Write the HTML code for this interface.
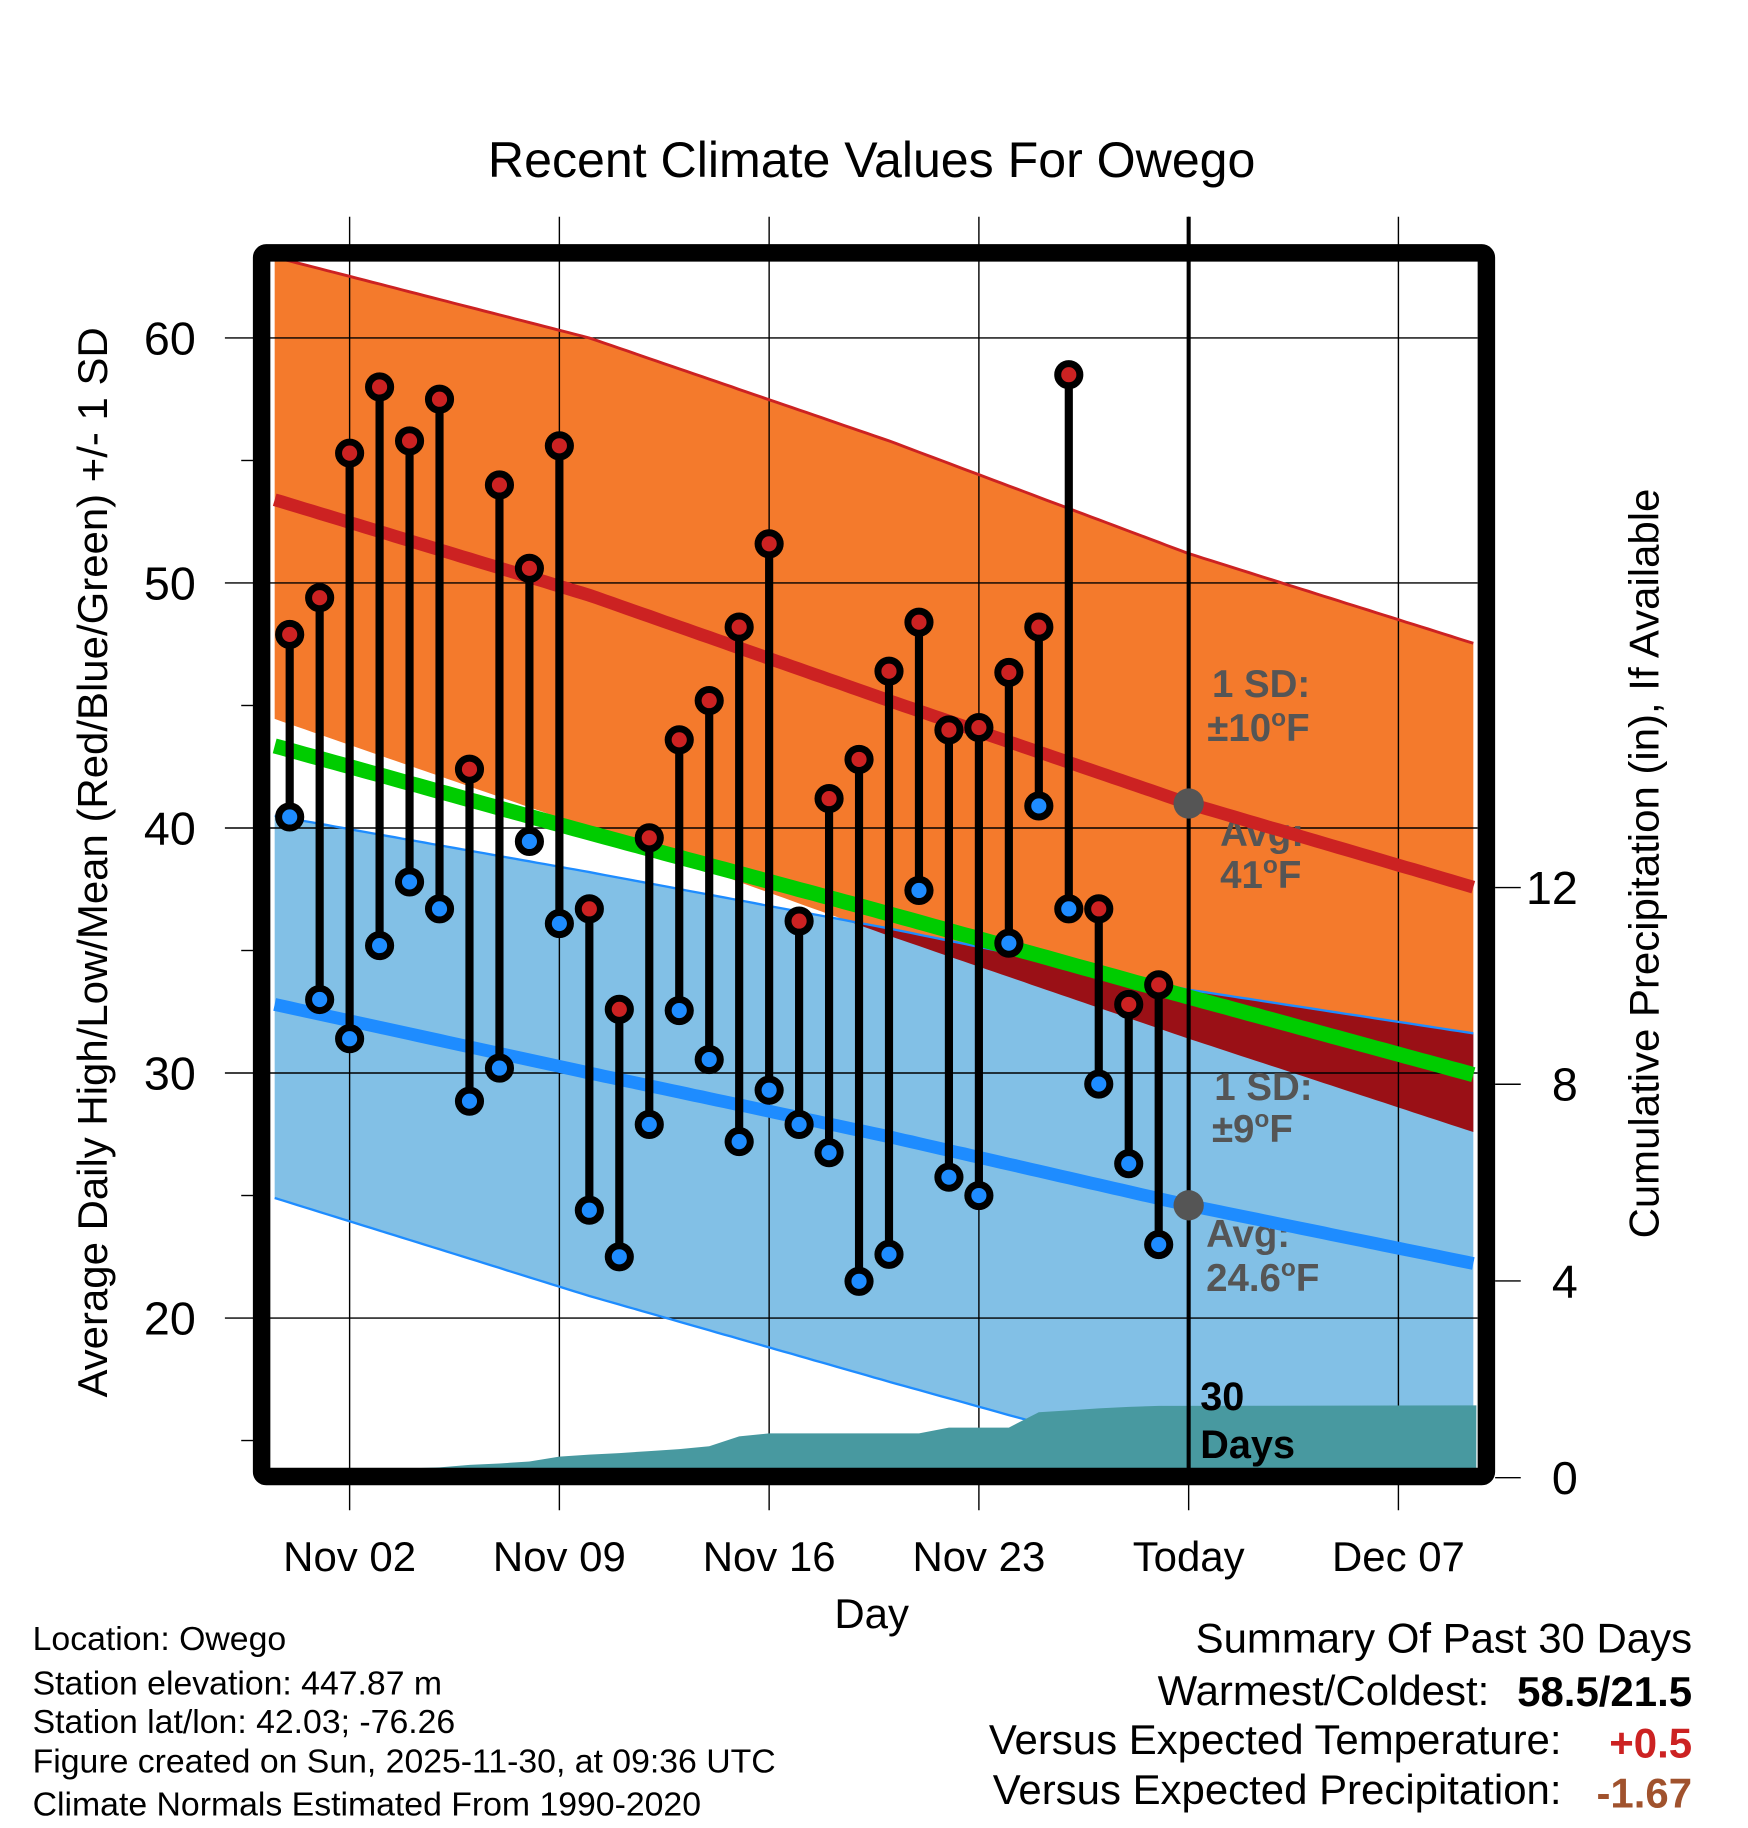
<!DOCTYPE html>
<html><head><meta charset="utf-8"><style>
html,body{margin:0;padding:0;background:#fff}
svg{display:block}
text{font-family:"Liberation Sans",sans-serif}
</style></head><body>
<svg id="chart" width="1748" height="1828" viewBox="0 0 1500 1568.6" xmlns="http://www.w3.org/2000/svg">
<defs><clipPath id="plotclip"><rect x="232" y="224" width="1036" height="1036"/></clipPath></defs>
<g id="bands" clip-path="url(#plotclip)"></g>
<g id="grid"></g>
<g id="annot">
<text x="1040" y="598" font-size="33" font-weight="bold" fill="#555">1 SD:</text>
<text x="1036" y="636" font-size="33" font-weight="bold" fill="#555">±10<tspan font-size="21" dy="-13">o</tspan><tspan dy="13">F</tspan></text>
<text x="1047" y="726" font-size="33" font-weight="bold" fill="#555">Avg:</text>
<text x="1047" y="762" font-size="33" font-weight="bold" fill="#555">41<tspan font-size="21" dy="-13">o</tspan><tspan dy="13">F</tspan></text>
<text x="1042" y="944" font-size="33" font-weight="bold" fill="#555">1 SD:</text>
<text x="1040" y="980" font-size="33" font-weight="bold" fill="#555">±9<tspan font-size="21" dy="-13">o</tspan><tspan dy="13">F</tspan></text>
<text x="1035" y="1070" font-size="33" font-weight="bold" fill="#555">Avg:</text>
<text x="1035" y="1108" font-size="33" font-weight="bold" fill="#555">24.6<tspan font-size="21" dy="-13">o</tspan><tspan dy="13">F</tspan></text>
</g>
<g id="lines" clip-path="url(#plotclip)"></g>
<g id="marks"></g>
<text x="1030" y="1210" font-size="34" font-weight="bold" fill="#000">30</text>
<text x="1030" y="1251" font-size="34" font-weight="bold" fill="#000">Days</text>
<rect x="224.5" y="217" width="1051" height="1050" rx="4" fill="none" stroke="#000" stroke-width="15"/>
<g id="axes"></g>
<text x="748" y="152" font-size="43" text-anchor="middle">Recent Climate Values For Owego</text>
<text transform="translate(92,740) rotate(-90)" font-size="36" text-anchor="middle">Average Daily High/Low/Mean (Red/Blue/Green) +/- 1 SD</text>
<text transform="translate(1423,741) rotate(-90)" font-size="36" text-anchor="middle">Cumulative Precipitation (in), If Available</text>
<text x="748" y="1397" font-size="36" text-anchor="middle">Day</text>
<g font-size="29">
<text x="28" y="1416">Location: Owego</text>
<text x="28" y="1454">Station elevation: 447.87 m</text>
<text x="28" y="1487">Station lat/lon: 42.03; -76.26</text>
<text x="28" y="1521">Figure created on Sun, 2025-11-30, at 09:36 UTC</text>
<text x="28" y="1558">Climate Normals Estimated From 1990-2020</text>
</g>
<g font-size="36">
<text x="1452" y="1418" text-anchor="end">Summary Of Past 30 Days</text>
<text x="1278" y="1463" text-anchor="end">Warmest/Coldest:</text>
<text x="1452" y="1464" text-anchor="end" font-weight="bold">58.5/21.5</text>
<text x="1340" y="1505" text-anchor="end">Versus Expected Temperature:</text>
<text x="1452" y="1508" text-anchor="end" font-weight="bold" fill="#cc2222">+0.5</text>
<text x="1340" y="1548" text-anchor="end">Versus Expected Precipitation:</text>
<text x="1452" y="1551" text-anchor="end" font-weight="bold" fill="#a0522d">-1.67</text>
</g>
</svg>
<script>
// Day index: 0 = Nov 01
const days = [-1,0,1,2,3,4,5,6,7,8,9,10,11,12,13,14,15,16,17,18,19,20,21,22,23,24,25,26,27,28];
const highs = [47.9,49.4,55.3,58.0,55.8,57.5,42.4,54.0,50.6,55.6,36.7,32.6,39.6,43.6,45.2,48.2,51.6,36.2,41.2,42.8,46.4,48.4,44.0,44.1,46.35,48.2,58.5,36.7,32.8,33.6];
const lows = [40.45,33.0,31.4,35.2,37.8,36.7,28.85,30.2,39.45,36.1,24.4,22.5,27.9,32.55,30.55,27.2,29.3,27.9,26.75,21.5,22.6,37.45,25.75,25.0,35.3,40.9,36.7,29.55,26.3,23.0];
const precipDays = [-1.5,3,4,5,6,7,8,9,10,11,12,13,14,15,20,21,23,24,25,26,27,28,38.6];
const precip = [0,0,0.02,0.07,0.1,0.14,0.24,0.28,0.31,0.35,0.39,0.45,0.65,0.71,0.71,0.83,0.83,1.14,1.18,1.22,1.25,1.27,1.28];
const normDays = [-1.5,9,19,29,38.6];
const hiUpper = [63.3,60.0,55.8,51.2,47.5];
const hiAvg = [53.4,49.5,45.2,41.0,37.55];
const hiLower = [44.45,40.0,35.6,31.4,27.55];
const meanAvg = [43.35,39.8,36.5,33.1,29.9];
const loUpper = [40.5,38.2,35.9,33.4,31.6];
const loAvg = [32.8,30.0,27.4,24.6,22.2];
const loLower = [24.9,20.9,17.4,14.0,11.0];
const yTicks = [20,30,40,50,60];
const pTicks = [0,4,8,12];
const xTickDays = [1,8,15,22,29,36];
const xTickLabels = ["Nov 02","Nov 09","Nov 16","Nov 23","Today","Dec 07"];

const NS="http://www.w3.org/2000/svg";
const X = d => 274.3 + d*(180/7);
const Y = v => 290 + (60-v)*21.025;
const P = p => 1260 - p*42.2;
function interp(xs, ys, x){
  for(let i=0;i<xs.length-1;i++){ if(x<=xs[i+1]){ const t=(x-xs[i])/(xs[i+1]-xs[i]); return ys[i]+t*(ys[i+1]-ys[i]); } }
  return ys[ys.length-1];
}
function mk(tag, attrs, parent){ const e=document.createElementNS(NS,tag); for(const k in attrs) e.setAttribute(k,attrs[k]); parent.appendChild(e); return e; }
const bands=document.getElementById('bands'), lines=document.getElementById('lines'), grid=document.getElementById('grid'), marks=document.getElementById('marks'), axes=document.getElementById('axes');
const samp=[]; for(let d=-1.5; d<=38.6001; d+=0.25) samp.push(d);
function bandPath(up, lo){
  let s=samp.map((d,i)=>(i?'L':'M')+X(d).toFixed(1)+','+Y(interp(normDays,up,d)).toFixed(1)).join('');
  s+=samp.slice().reverse().map(d=>'L'+X(d).toFixed(1)+','+Y(interp(normDays,lo,d)).toFixed(1)).join('');
  return s+'Z';
}
function linePath(arr){ return samp.map((d,i)=>(i?'L':'M')+X(d).toFixed(1)+','+Y(interp(normDays,arr,d)).toFixed(1)).join(''); }
let e;
e=mk('path',{d:bandPath(hiUpper,hiLower),fill:'#f47a2c'},bands);


e=mk('path',{d:bandPath(loUpper,loLower),fill:'#82c0e6'},bands);


let ov=''; let first=true;
samp.forEach(d=>{ const u=interp(normDays,loUpper,d), l=interp(normDays,hiLower,d); if(l<u){ ov+=(first?'M':'L')+X(d).toFixed(1)+','+Y(u).toFixed(1); first=false; } });
samp.slice().reverse().forEach(d=>{ const u=interp(normDays,loUpper,d), l=interp(normDays,hiLower,d); if(l<u){ ov+='L'+X(d).toFixed(1)+','+Y(l).toFixed(1);} });
if(ov){ e=mk('path',{d:ov+'Z',fill:'#9a1016'},bands);

 }
let pp='M'+X(precipDays[0])+','+P(0);
precipDays.forEach((d,i)=>{ pp+='L'+X(d).toFixed(1)+','+P(precip[i]).toFixed(1); });
pp+='L'+X(precipDays[precipDays.length-1])+','+P(0)+'Z';
xTickDays.forEach((d,i)=>{
  e=mk('line',{x1:X(d),x2:X(d),y1:186,y2:1296,stroke:'#000','stroke-width':1.2},grid);
  
  
  e=mk('text',{x:X(d),y:1348,'font-size':36,'text-anchor':'middle'},axes); e.textContent=xTickLabels[i];
  
  
});
yTicks.forEach(v=>{
  e=mk('line',{x1:193,x2:1268,y1:Y(v),y2:Y(v),stroke:'#000','stroke-width':1.2},grid);
  
  
  e=mk('text',{x:168,y:Y(v)+14,'font-size':40,'text-anchor':'end'},axes); e.textContent=v;
  
  
});
[15,25,35,45,55].forEach(v=>{ e=mk('line',{x1:207,x2:218,y1:Y(v),y2:Y(v),stroke:'#000','stroke-width':1.2},axes);
  
   });
pTicks.forEach(p=>{
  e=mk('line',{x1:1283,x2:1305,y1:P(p)+8,y2:P(p)+8,stroke:'#000','stroke-width':1.2},axes);
  
  
  e=mk('text',{x:1354,y:P(p)+22,'font-size':40,'text-anchor':'end'},axes); e.textContent=p;
  
  
});
e=mk('path',{d:linePath(hiUpper),fill:'none',stroke:'#cc2222','stroke-width':2.5},lines);


e=mk('path',{d:linePath(loUpper),fill:'none',stroke:'#1e8cff','stroke-width':2},lines);


e=mk('path',{d:linePath(loLower),fill:'none',stroke:'#1e8cff','stroke-width':2},lines);


e=mk('path',{d:linePath(meanAvg),fill:'none',stroke:'#00cc00','stroke-width':13},lines);


e=mk('path',{d:linePath(hiAvg),fill:'none',stroke:'#cc2222','stroke-width':11},lines);


e=mk('path',{d:linePath(loAvg),fill:'none',stroke:'#1e8cff','stroke-width':11},lines);


e=mk('path',{d:pp,fill:'#4899a0'},lines);


e=mk('line',{x1:X(29),x2:X(29),y1:186,y2:1262,stroke:'#000','stroke-width':3.5},marks);


e=mk('circle',{cx:X(29),cy:Y(interp(normDays,hiAvg,29)),r:13,fill:'#555'},marks);


e=mk('circle',{cx:X(29),cy:Y(interp(normDays,loAvg,29)),r:13,fill:'#555'},marks);


days.forEach((d,i)=>{
  e=mk('line',{x1:X(d),x2:X(d),y1:Y(highs[i]),y2:Y(lows[i]),stroke:'#000','stroke-width':7},marks);
  
  
  e=mk('circle',{cx:X(d),cy:Y(highs[i]),r:9.5,fill:'#cc2222',stroke:'#000','stroke-width':6},marks);
  
  
  e=mk('circle',{cx:X(d),cy:Y(lows[i]),r:9.5,fill:'#1e8cff',stroke:'#000','stroke-width':6},marks);
  
  
});
</script>
</body></html>
